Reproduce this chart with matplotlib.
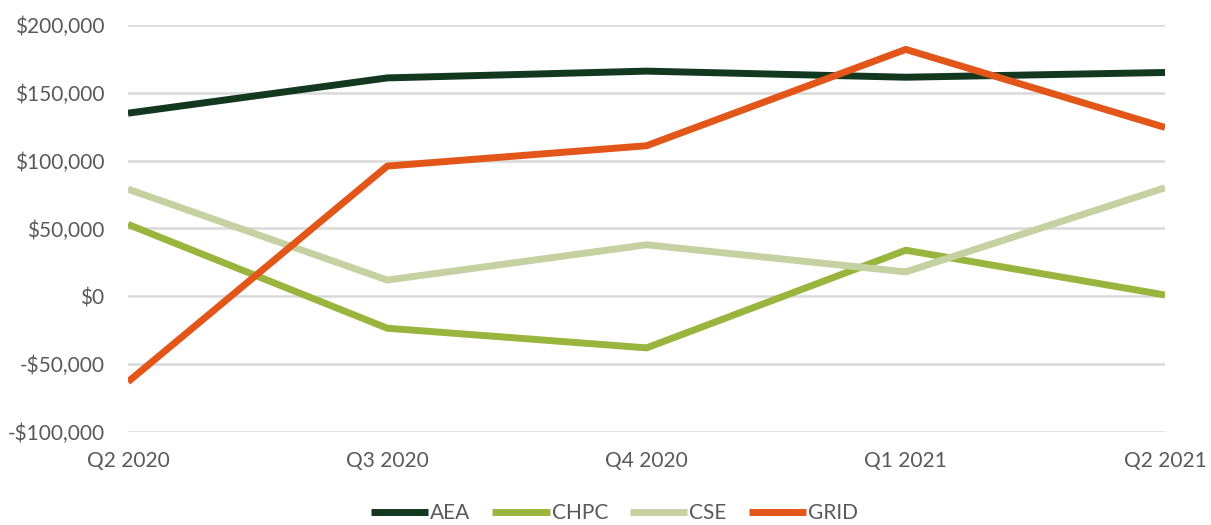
import matplotlib.pyplot as plt
from matplotlib.ticker import FuncFormatter

quarters = ["Q2 2020", "Q3 2020", "Q4 2020", "Q1 2021", "Q2 2021"]
aea = [135000, 161000, 166000, 161500, 165000]
chpc = [53000, -23500, -38000, 34000, 1000]
cse = [79000, 12000, 38000, 18000, 80000]
grid = [-63000, 96000, 111000, 182000, 124500]

series = [
    ("AEA", aea, "#12381F"),
    ("CHPC", chpc, "#9AB53D"),
    ("CSE", cse, "#C5D1A1"),
    ("GRID", grid, "#E3561A"),
]

text_color = "#595959"
plt.rcParams["font.family"] = ["Lato", "DejaVu Sans"]

fig = plt.figure(figsize=(12.11, 5.25), dpi=100)
ax = fig.add_axes((128 / 1211, 93 / 525, 1037 / 1211, 407 / 525))

x = list(range(len(quarters)))
for name, values, color in series:
    ax.plot(x, values, color=color, linewidth=5, label=name, solid_capstyle="butt")

ax.set_xlim(0, len(quarters) - 1)
ax.set_ylim(-100000, 200000)
ax.set_yticks(range(-100000, 200001, 50000))
ax.yaxis.set_major_formatter(FuncFormatter(
    lambda v, _: f"-${abs(v):,.0f}" if v < 0 else f"${v:,.0f}"))
ax.set_xticks(x)
ax.set_xticklabels(quarters)
ax.grid(axis="y", color="#D9D9D9", linewidth=1.8)
ax.set_axisbelow(True)
for spine in ax.spines.values():
    spine.set_visible(False)
ax.tick_params(axis="both", length=0, labelsize=15, colors=text_color)
ax.tick_params(axis="x", pad=14)
ax.tick_params(axis="y", pad=17)

leg = ax.legend(loc="center", bbox_to_anchor=(0.469, -0.2), ncol=4, frameon=False,
                fontsize=15, handlelength=2.75, handletextpad=0.1, columnspacing=1.05,
                borderpad=0.2)
for t in leg.get_texts():
    t.set_color(text_color)

fig.savefig("out.png", dpi=100)
